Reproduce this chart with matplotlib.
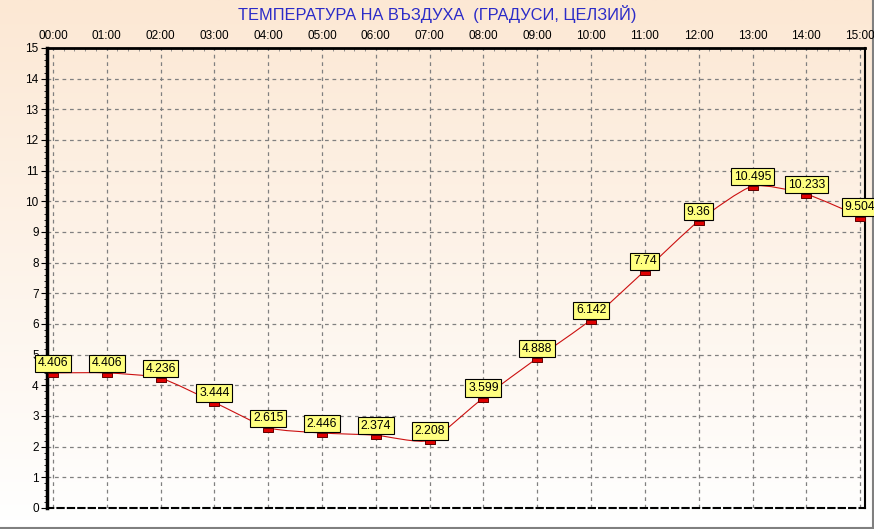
import numpy as np
import matplotlib
matplotlib.use("Agg")
import matplotlib.pyplot as plt
from matplotlib.path import Path
from matplotlib.patches import PathPatch
from matplotlib.ticker import MultipleLocator

hours = ["00:00", "01:00", "02:00", "03:00", "04:00", "05:00", "06:00", "07:00",
         "08:00", "09:00", "10:00", "11:00", "12:00", "13:00", "14:00", "15:00"]
temps = [4.406, 4.406, 4.236, 3.444, 2.615, 2.446, 2.374, 2.208,
         3.599, 4.888, 6.142, 7.74, 9.36, 10.495, 10.233, 9.504]
labels = ["4.406", "4.406", "4.236", "3.444", "2.615", "2.446", "2.374", "2.208",
          "3.599", "4.888", "6.142", "7.74", "9.36", "10.495", "10.233", "9.504"]
title = "ТЕМПЕРАТУРА НА ВЪЗДУХА  (ГРАДУСИ, ЦЕЛЗИЙ)"

plt.rcParams['font.family'] = ['Liberation Sans', 'DejaVu Sans']

W, H = 874, 529
fig = plt.figure(figsize=(W / 100, H / 100), dpi=100)

# background gradient: peach at the top fading to white
bg = fig.add_axes([0, 0, 1, 1], zorder=-10)
top = np.array([252, 232, 212]) / 255
bot = np.array([255, 255, 255]) / 255
t = np.linspace(0, 1, 256)[:, None]
grad = top * (1 - t) + bot * t
grad = np.repeat(grad[:, None, :], 2, axis=1)
bg.imshow(grad, aspect='auto', extent=[0, 1, 0, 1])
bg.set_xlim(0, 1)
bg.set_ylim(0, 1)
bg.axis('off')
bg.fill_between([0, 1], 0, 9 / H, color='white')
bg.plot([0, 1], [1.5 / H, 1.5 / H], color='#808080', lw=1.5)
bg.plot([1 - 1.5 / W, 1 - 1.5 / W], [0, 1], color='#808080', lw=1.5)

x0, x1, y0, y1 = 47, 865, 508, 48
ax = fig.add_axes([x0 / W, 1 - y0 / H, (x1 - x0) / W, (y0 - y1) / H])
ax.set_facecolor('none')

x = np.arange(len(temps))
ax.set_xlim(-0.11, 15.09)
ax.set_ylim(0, 15)

ax.xaxis.tick_top()
ax.set_xticks(x)
ax.set_xticklabels(hours)
ax.set_yticks(range(16))
ax.yaxis.set_minor_locator(MultipleLocator(0.2))
ax.xaxis.set_minor_locator(MultipleLocator(0.2))
ax.tick_params(axis='both', labelsize=8.5, colors='black', length=4, width=0.8, pad=2)
ax.tick_params(axis='x', length=0, pad=4)
ax.tick_params(which='minor', length=2, width=0.6)
ax.tick_params(axis='x', which='minor', direction='in', length=2, color='#808080',
               bottom=False)
ax.grid(True, which='major', color='#808080', linestyle=(0, (3, 3)), linewidth=0.9)

ax.spines['left'].set_linewidth(2.5)
ax.spines['top'].set_linewidth(2)
ax.spines['right'].set_linewidth(1.5)
ax.spines['bottom'].set_linestyle((0, (3, 2)))
ax.spines['bottom'].set_linewidth(1.5)

# gently smoothed curve through the points (cubic Bezier segments)
k = 10.0
pts = np.column_stack([x, temps]).astype(float)
verts = [tuple(pts[0])]
codes = [Path.MOVETO]
for i in range(len(pts) - 1):
    p0 = pts[i - 1] if i > 0 else pts[i]
    p1, p2 = pts[i], pts[i + 1]
    p3 = pts[i + 2] if i + 2 < len(pts) else pts[i + 1]
    c1 = p1 + (p2 - p0) / k
    c2 = p2 - (p3 - p1) / k
    verts += [tuple(c1), tuple(c2), tuple(p2)]
    codes += [Path.CURVE4] * 3
ax.add_patch(PathPatch(Path(verts, codes), facecolor='none',
                       edgecolor='#CC1010', lw=0.8, zorder=3, clip_on=False))

# small red rectangular markers hanging below each point
rect = Path([(-1, -0.9), (1, -0.9), (1, 0.0), (-1, 0.0), (-1, -0.9)],
            [Path.MOVETO, Path.LINETO, Path.LINETO, Path.LINETO, Path.CLOSEPOLY])
ax.plot(x, temps, linestyle='none', marker=rect, markersize=7,
        markerfacecolor='#E00000', markeredgecolor='#600000',
        markeredgewidth=0.7, zorder=4, clip_on=False)

for xi, yi, lab in zip(x, temps, labels):
    ax.annotate(lab, (xi, yi), xytext=(0, 6.8), textcoords='offset points',
                ha='center', va='center', fontsize=8.8, zorder=5,
                bbox=dict(boxstyle='square,pad=0.22', fc='#FFFF80',
                          ec='black', lw=0.8),
                annotation_clip=False)

fig.text(0.5, 1 - 14 / H, title, ha='center', va='center',
         fontsize=11.8, color='#2B2BC8')

fig.savefig('out.png', dpi=100)
